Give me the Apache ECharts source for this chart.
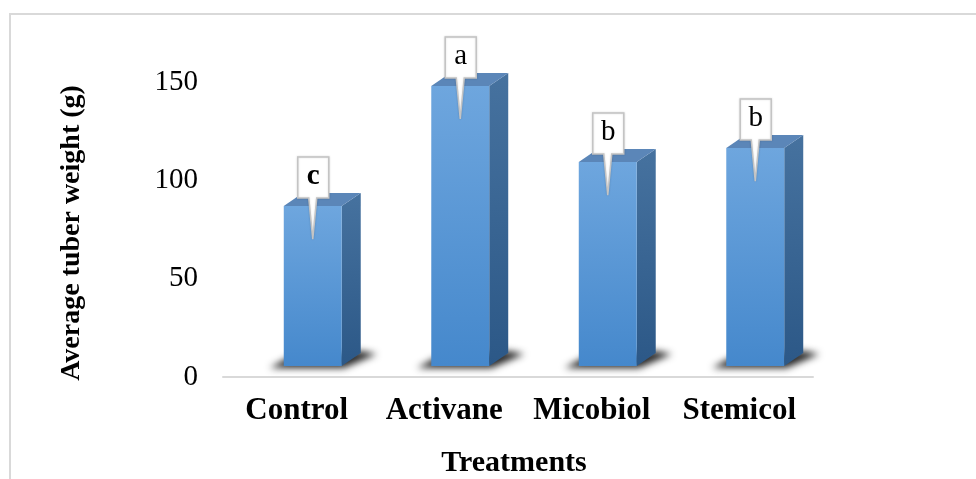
<!DOCTYPE html>
<html>
<head>
<meta charset="utf-8">
<script src="https://cdn.jsdelivr.net/npm/echarts@6/dist/echarts.min.js"></script>
<style>
  html, body { margin: 0; padding: 0; background: #fff; }
  #chart { width: 976px; height: 479px; }
</style>
</head>
<body>
<div id="chart"></div>
<script>
// Treatments and their average tuber weight (g)
const categories = ['Control', 'Activane', 'Micobiol', 'Stemicol'];
const weights = [81.3, 142.4, 103.7, 110.8];
// Mean-separation letters shown in the callouts
const letters = ['c', 'a', 'b', 'b'];
const yTicks = [0, 50, 100, 150];

const SERIF = '"Liberation Serif", "Times New Roman", serif';

// Pseudo-3D column geometry (pixels)
const FRONT_SHIFT_X = 16;   // front face sits behind the floor edge
const FRONT_SHIFT_Y = -11;
const DEPTH_X = 19;         // oblique depth of the column
const DEPTH_Y = -13;
const BAR_RATIO = 0.393;    // front face width as share of the band
const FAR = 3000;           // shadow caster is drawn off-canvas, only its blur shows

function renderColumn(params, api) {
  const idx = api.value(0);
  const val = api.value(1);
  const base = api.coord([idx, 0]);
  const top = api.coord([idx, val]);
  const band = api.size([1, 0])[0];
  const w = band * BAR_RATIO;
  const cx = base[0] + FRONT_SHIFT_X;
  const L = cx - w / 2;
  const R = cx + w / 2;
  const B = base[1] + FRONT_SHIFT_Y;
  const T = top[1] + FRONT_SHIFT_Y;

  const children = [];

  // soft floor shadow (only the blurred shadow lands on the canvas)
  const shadowPts = [
    [L - 14, B + 2], [R + 2, B + 2],
    [R + DEPTH_X + 16, B + DEPTH_Y + 1], [R + DEPTH_X, B + DEPTH_Y - 2],
    [L + 4, B - 8]
  ].map(p => [p[0] + FAR, p[1]]);
  children.push({
    type: 'polygon',
    shape: { points: shadowPts },
    style: {
      fill: '#000',
      shadowBlur: 7,
      shadowOffsetX: -FAR,
      shadowColor: 'rgba(0,0,0,0.85)'
    },
    silent: true
  });

  // side face
  children.push({
    type: 'polygon',
    shape: { points: [[R, T], [R + DEPTH_X, T + DEPTH_Y], [R + DEPTH_X, B + DEPTH_Y], [R, B]] },
    style: {
      fill: new echarts.graphic.LinearGradient(0, 0, 0, 1, [
        { offset: 0, color: '#46729f' },
        { offset: 1, color: '#2c5887' }
      ])
    }
  });

  // top face
  children.push({
    type: 'polygon',
    shape: { points: [[L, T], [L + DEPTH_X, T + DEPTH_Y], [R + DEPTH_X, T + DEPTH_Y], [R, T]] },
    style: { fill: '#5b86b8' }
  });

  // front face
  children.push({
    type: 'rect',
    shape: { x: L, y: T, width: R - L, height: B - T },
    style: {
      fill: new echarts.graphic.LinearGradient(0, 0, 0, 1, [
        { offset: 0, color: '#6ea6de' },
        { offset: 1, color: '#4588cc' }
      ])
    }
  });

  // callout with letter
  const bw = 31, bh = 41;
  const bx = cx - bw / 2 + 0.5;
  const bBottom = T - 8;
  const bTop = bBottom - bh;
  const tipY = T + 33;
  children.push({
    type: 'polygon',
    shape: {
      points: [
        [bx, bTop], [bx + bw, bTop], [bx + bw, bBottom],
        [cx + 4, bBottom], [cx, tipY], [cx - 4, bBottom],
        [bx, bBottom]
      ]
    },
    style: {
      fill: '#ffffff',
      stroke: '#c4c4c4',
      lineWidth: 1.5,
      shadowBlur: 2,
      shadowColor: 'rgba(0,0,0,0.15)'
    },
    z2: 10
  });
  const letter = letters[params.dataIndex];
  children.push({
    type: 'text',
    style: {
      text: letter,
      x: bx + bw / 2,
      y: bTop + bh / 2 - 1,
      align: 'center',
      verticalAlign: 'middle',
      fill: '#000',
      font: (letter === 'c' ? 'bold ' : '') + '29px ' + SERIF
    },
    z2: 11
  });

  return { type: 'group', children };
}

const chart = echarts.init(document.getElementById('chart'), null, { renderer: 'canvas' });

chart.setOption({
  animation: false,
  backgroundColor: '#ffffff',
  grid: { left: 223, right: 163, top: 82, bottom: 102 },
  xAxis: {
    type: 'category',
    data: categories,
    axisLine: { show: true, lineStyle: { color: '#d9d9d9', width: 2 } },
    axisTick: { show: false },
    axisLabel: {
      interval: 0,
      hideOverlap: false,
      margin: 18,
      color: '#000',
      fontFamily: SERIF,
      fontWeight: 'bold',
      fontSize: 31
    }
  },
  yAxis: {
    type: 'value',
    min: yTicks[0],
    max: yTicks[yTicks.length - 1],
    interval: 50,
    axisLine: { show: false },
    axisTick: { show: false },
    splitLine: { show: false },
    axisLabel: {
      margin: 25,
      color: '#000',
      fontFamily: SERIF,
      fontSize: 29
    }
  },
  series: [{
    type: 'custom',
    clip: false,
    renderItem: renderColumn,
    encode: { x: 0, y: 1 },
    data: weights.map((v, i) => [i, v])
  }],
  graphic: [
    {
      type: 'rect',
      shape: { x: 10, y: 14, width: 1000, height: 500 },
      style: { fill: 'none', stroke: '#d9d9d9', lineWidth: 2 },
      silent: true
    },
    {
      type: 'text',
      x: 72,
      y: 233,
      rotation: Math.PI / 2,
      style: {
        text: 'Average tuber weight (g)',
        align: 'center',
        verticalAlign: 'middle',
        fill: '#000',
        font: 'bold 28px ' + SERIF
      }
    },
    {
      type: 'text',
      x: 514,
      y: 463,
      style: {
        text: 'Treatments',
        align: 'center',
        verticalAlign: 'middle',
        fill: '#000',
        font: 'bold 30px ' + SERIF
      }
    }
  ]
});
</script>
</body>
</html>
